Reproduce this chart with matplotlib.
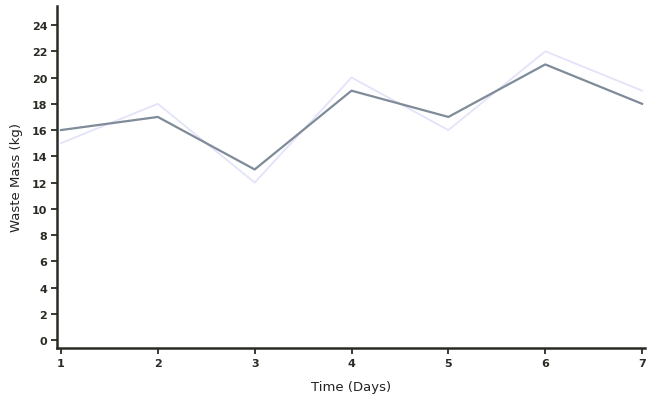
import numpy as np
import matplotlib
matplotlib.use("Agg")
import matplotlib.pyplot as plt

# data
days = [1, 2, 3, 4, 5, 6, 7]
waste_main = [16, 17, 13, 19, 17, 21, 18]
waste_light = [15, 18, 12, 20, 16, 22, 19]
y_ticks = list(range(0, 25, 2))

plt.rcParams['font.family'] = ['DejaVu Sans']

fig = plt.figure(figsize=(6.53, 4.02), dpi=100)
ax = fig.add_axes([57/653, 1-349/402, (645-57)/653, (349-7)/402])

ax.plot(days, waste_light, color='#e3e3fa', lw=1.3)
ax.plot(days, waste_main, color='#7f8b99', lw=1.6)

ax.set_xlim(0.959, 7.03)
ax.set_ylim(-0.6, 25.45)
ax.set_xticks(days)
ax.set_yticks(y_ticks)

for s in ['top', 'right']:
    ax.spines[s].set_visible(False)
for s in ['left', 'bottom']:
    ax.spines[s].set_color('#2b2b25')
    ax.spines[s].set_linewidth(1.8)

ax.tick_params(axis='both', colors='#2b2b25', length=4, width=1.3,
               labelsize=8, pad=3)
for lab in ax.get_xticklabels() + ax.get_yticklabels():
    lab.set_fontweight('bold')

ax.set_xlabel("Time (Days)", fontsize=9.5, color='#222222', labelpad=9,
              fontweight='medium')
ax.set_ylabel("Waste Mass (kg)", fontsize=9.5, color='#222222', labelpad=6,
              fontweight='medium')

fig.savefig("out.png", dpi=100)
